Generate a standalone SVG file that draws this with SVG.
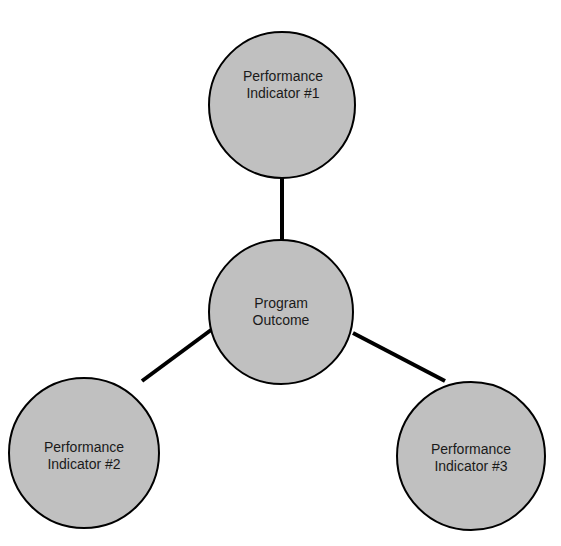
<svg xmlns="http://www.w3.org/2000/svg" width="561" height="546" viewBox="0 0 561 546">
  <style>
    .node { fill: #c0c0c0; stroke: #000; stroke-width: 2; }
    .edge { stroke: #000; stroke-width: 4; fill: none; }
    .label { font-family: "Liberation Sans", Arial, sans-serif; font-size: 14px; fill: #1a1a1a; text-anchor: middle; }
  </style>
  <rect width="561" height="546" fill="#fff"/>
  <g id="connectors">
    <line class="edge" x1="282" y1="178" x2="282" y2="240"/>
    <line class="edge" x1="142" y1="381" x2="211" y2="330"/>
    <line class="edge" x1="353" y1="333" x2="445" y2="381"/>
  </g>
  <g id="indicator1">
    <circle class="node" cx="282" cy="105" r="73"/>
    <text class="label" x="283" y="81">Performance</text>
    <text class="label" x="283" y="98">Indicator #1</text>
  </g>
  <g id="outcome">
    <circle class="node" cx="281" cy="312" r="72"/>
    <text class="label" x="281" y="308">Program</text>
    <text class="label" x="281" y="325">Outcome</text>
  </g>
  <g id="indicator2">
    <circle class="node" cx="84" cy="453" r="75"/>
    <text class="label" x="84" y="452">Performance</text>
    <text class="label" x="84" y="469">Indicator #2</text>
  </g>
  <g id="indicator3">
    <circle class="node" cx="471" cy="456" r="74"/>
    <text class="label" x="471" y="454">Performance</text>
    <text class="label" x="471" y="471">Indicator #3</text>
  </g>
</svg>
